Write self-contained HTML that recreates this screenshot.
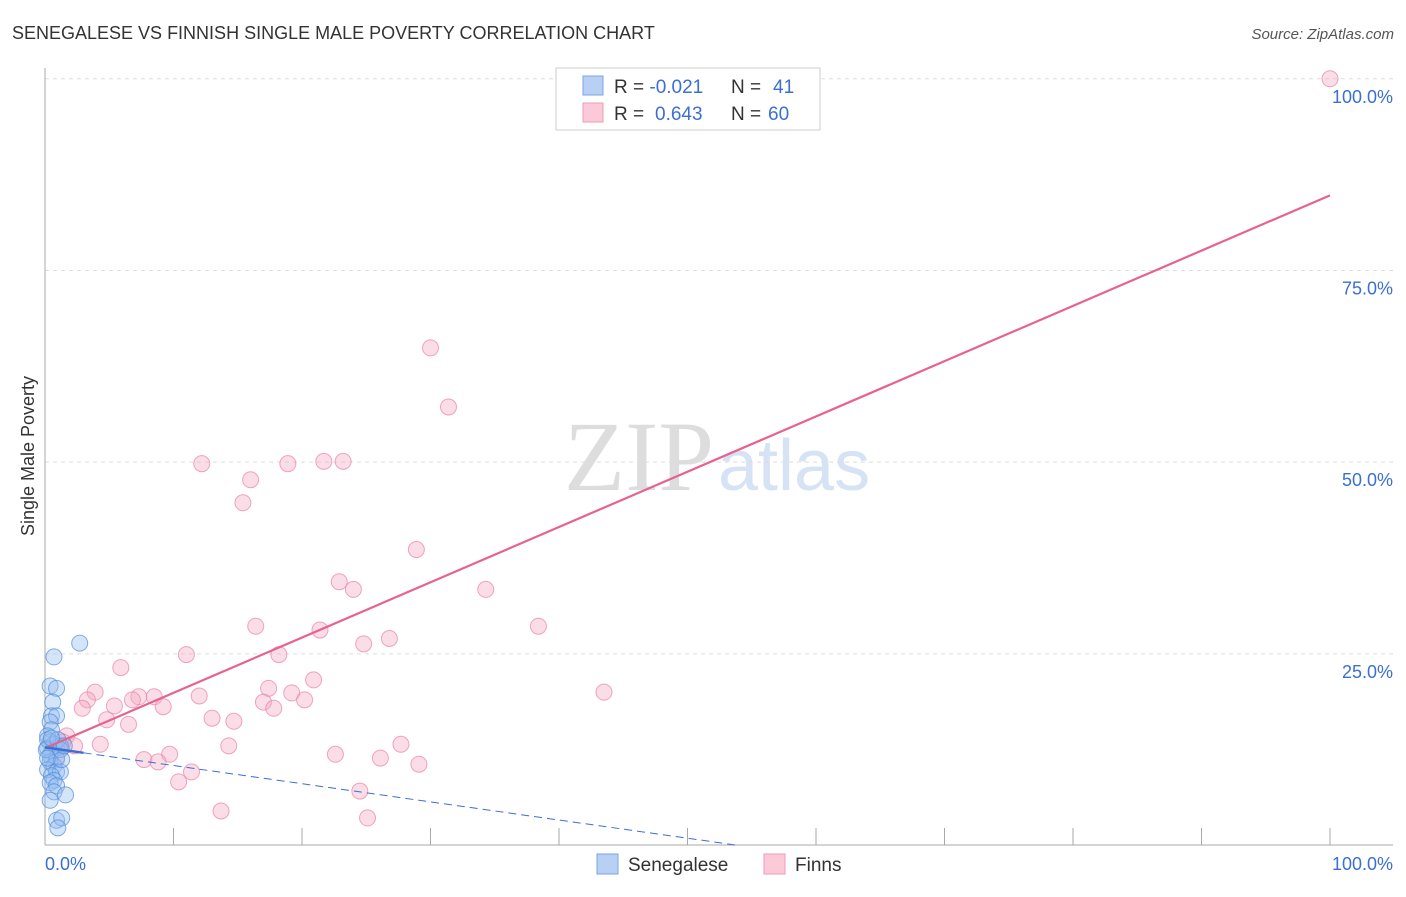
<!DOCTYPE html>
<html><head><meta charset="utf-8"><style>
body{margin:0;background:#fff;font-family:"Liberation Sans",sans-serif;}
</style></head><body>
<svg id="chart" width="1406" height="892" font-family="Liberation Sans, sans-serif">
<text x="12" y="39" font-size="18" fill="#333">SENEGALESE VS FINNISH SINGLE MALE POVERTY CORRELATION CHART</text>
<text x="1394" y="39" font-size="15" fill="#555" text-anchor="end" font-style="italic">Source: ZipAtlas.com</text>
<text x="714" y="490" font-size="100" fill="#ddd" text-anchor="end" style="font-family:'Liberation Serif',serif">ZIP</text>
<text x="718" y="490" font-size="72" fill="#d6e3f5">atlas</text>
<text transform="translate(34,456) rotate(-90)" font-size="18" fill="#333" text-anchor="middle">Single Male Poverty</text>
<g id="grid"></g><g id="axes"></g><g id="marks"></g>
<g>
<rect x="556" y="68" width="264" height="62" fill="#fff" stroke="#ccc"/>
<rect x="583" y="76" width="20" height="19" fill="#b7d0f3" stroke="#7ba3e0"/>
<rect x="583" y="103" width="20" height="19" fill="#fbc9d8" stroke="#ee9db7"/>
<text x="614" y="93" font-size="19" fill="#333">R = <tspan fill="#3b6fd1">-0.021</tspan><tspan x="731">N = </tspan><tspan fill="#3b6fd1" x="773">41</tspan></text>
<text x="614" y="120" font-size="19" fill="#333">R = <tspan fill="#3b6fd1" x="655">0.643</tspan><tspan x="731">N = </tspan><tspan fill="#3b6fd1" x="768">60</tspan></text>
</g>
<g>
<rect x="597" y="854" width="21" height="20" fill="#b7d0f3" stroke="#7ba3e0"/>
<text x="628" y="871" font-size="19" fill="#333">Senegalese</text>
<rect x="764" y="854" width="21" height="20" fill="#fbc9d8" stroke="#ee9db7"/>
<text x="795" y="871" font-size="19" fill="#333">Finns</text>
</g>
</svg>
<script>
const yTicks=[25,50,75,100];
const yTickLabels=["25.0%","50.0%","75.0%","100.0%"];
const xTicks=[10,20,30,40,50,60,70,80,90,100];
const blueX=[2.7,0.7,0.4,0.9,0.6,0.5,0.9,0.4,0.5,0.2,0.4,0.7,0.2,0.9,1.2,0.5,0.4,0.9,0.4,0.7,0.2,0.9,1.2,0.5,0.7,0.4,0.9,0.7,1.6,0.9,1.3,1.0,0.2,0.1,1.0,0.5,1.2,0.2,1.3,0.4,1.5];
const blueY=[26.4,24.6,20.8,20.5,18.7,16.9,16.9,16.1,15.1,14.3,13.5,13.2,12.7,12.7,13.0,12.2,11.7,11.4,10.9,10.4,9.9,9.6,9.6,9.1,8.5,8.2,7.8,7.0,6.6,3.3,3.6,2.3,13.8,12.5,13.8,14.0,12.5,11.4,11.2,5.9,13.0];
const pinkX=[100,30.0,31.4,12.2,18.9,21.7,23.2,16.0,15.4,28.9,22.9,24.0,34.3,16.4,21.4,38.4,26.8,24.8,11.0,18.2,5.9,20.9,17.4,3.9,43.5,12.0,19.2,7.3,8.5,20.2,3.3,17.0,5.4,6.8,2.9,9.2,17.8,4.8,13.0,14.7,6.5,1.7,1.4,4.3,2.3,14.3,27.7,9.7,22.6,7.7,8.8,26.1,29.1,11.4,10.4,24.5,13.7,25.1,0.9,1.3];
const pinkY=[100,64.9,57.2,49.8,49.8,50.1,50.1,47.7,44.7,38.6,34.4,33.4,33.4,28.6,28.1,28.6,27.0,26.3,24.9,24.9,23.2,21.6,20.5,20.0,20.0,19.5,19.9,19.4,19.4,19.0,19.0,18.7,18.2,19.0,17.9,18.1,17.9,16.4,16.6,16.2,15.8,14.3,13.5,13.2,13.0,13.0,13.2,11.9,11.9,11.2,10.9,11.4,10.6,9.6,8.3,7.1,4.5,3.6,11.2,12.7];
const pinkTrend=[12.7,84.8];
const blueTrend=[12.8,-0.237];
const NS="http://www.w3.org/2000/svg";
const X=v=>45+v*12.85, Y=v=>845.5-v*7.667;
function mk(t,a,p){const e=document.createElementNS(NS,t);for(const k in a)e.setAttribute(k,a[k]);document.getElementById(p).appendChild(e);return e;}
yTicks.forEach((t,i)=>{
 const l=mk('line',{x1:45,x2:1393,y1:Y(t),y2:Y(t),stroke:'#ddd','stroke-dasharray':'4,4'},'grid');
 
 
 const tx=mk('text',{x:1393,y:Y(t)+24,'font-size':18,fill:'#3b6fd1','text-anchor':'end'},'grid');
 tx.textContent=yTickLabels[i];
 
 
});
let a=mk('line',{x1:45,x2:45,y1:68,y2:845,stroke:'#aaa'},'axes');

a=mk('line',{x1:45,x2:1393,y1:845,y2:845,stroke:'#aaa'},'axes');

xTicks.forEach(t=>{const l=mk('line',{x1:X(t),x2:X(t),y1:828,y2:845,stroke:'#aaa'},'axes');
 
 });
let t0=mk('text',{x:45,y:870,'font-size':18,fill:'#3b6fd1'},'axes');t0.textContent='0.0%';

t0=mk('text',{x:1393,y:870,'font-size':18,fill:'#3b6fd1','text-anchor':'end'},'axes');t0.textContent='100.0%';

pinkX.forEach((x,i)=>{const c=mk('circle',{cx:X(x),cy:Y(pinkY[i]),r:8,fill:'rgba(246,170,195,0.4)',stroke:'rgba(232,130,165,0.7)'},'marks');
 
 });
blueX.forEach((x,i)=>{const c=mk('circle',{cx:X(x),cy:Y(blueY[i]),r:8,fill:'rgba(150,190,240,0.4)',stroke:'rgba(80,140,220,0.7)'},'marks');
 
 });
let ln=mk('line',{x1:X(0),y1:Y(pinkTrend[0]),x2:X(100),y2:Y(pinkTrend[1]),stroke:'#e8628f','stroke-width':2.2},'marks');

const bEnd=-blueTrend[0]/blueTrend[1];
ln=mk('line',{x1:X(0),y1:Y(blueTrend[0]),x2:X(3),y2:Y(blueTrend[0]+3*blueTrend[1]),stroke:'#3b6fd1','stroke-width':2.5},'marks');

ln=mk('line',{x1:X(3),y1:Y(blueTrend[0]+3*blueTrend[1]),x2:X(bEnd),y2:Y(0),stroke:'#3b6fd1','stroke-width':1,'stroke-dasharray':'8,5'},'marks');

</script>
</body></html>
